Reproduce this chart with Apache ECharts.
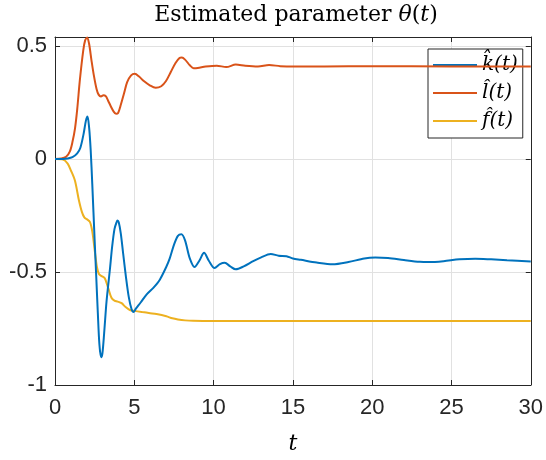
<!DOCTYPE html>
<html>
<head>
<meta charset="utf-8">
<script src="https://cdn.jsdelivr.net/npm/echarts@6/dist/echarts.min.js"></script>
<style>html,body{margin:0;padding:0;background:#fff}#c{width:546px;height:460px}</style>
</head>
<body>
<div id="c"></div>
<script>
// ---- data ----
const seriesNames = ['k\u0302(t)', 'l\u0302(t)', 'f\u0302(t)'];
const xTicks = [0, 5, 10, 15, 20, 25, 30];
const yTicks = [-1, -0.5, 0, 0.5];

const tK = [0, 0.5, 0.8, 1.1, 1.4, 1.6, 1.8, 1.95, 2.05, 2.15, 2.25, 2.35, 2.5, 2.6, 2.7, 2.8, 2.91, 2.99, 3.1, 3.25, 3.46, 3.6, 3.75, 3.88, 3.94, 4.02, 4.15, 4.3, 4.47, 4.65, 4.83, 4.95, 5.1, 5.4, 5.77, 6.2, 6.6, 7.0, 7.23, 7.5, 7.75, 7.97, 8.2, 8.5, 8.8, 9.1, 9.4, 9.7, 10.06, 10.4, 10.7, 11.05, 11.4, 11.9, 12.5, 13.0, 13.6, 14.1, 14.6, 15.0, 15.5, 16.5, 17.5, 18.5, 19.5, 20.2, 21, 22, 23, 23.6, 24.5, 25.5, 26.5, 27.5, 28.5, 30];
const kVals = [0, 0, 0.002, 0.008, 0.025, 0.05, 0.11, 0.17, 0.188, 0.14, 0.04, -0.11, -0.36, -0.52, -0.68, -0.82, -0.877, -0.86, -0.77, -0.63, -0.49, -0.39, -0.31, -0.28, -0.272, -0.28, -0.33, -0.42, -0.52, -0.61, -0.665, -0.677, -0.662, -0.635, -0.60, -0.57, -0.535, -0.48, -0.441, -0.38, -0.34, -0.333, -0.36, -0.44, -0.478, -0.45, -0.415, -0.45, -0.482, -0.465, -0.459, -0.475, -0.488, -0.475, -0.452, -0.435, -0.42, -0.428, -0.43, -0.44, -0.446, -0.458, -0.466, -0.456, -0.44, -0.436, -0.438, -0.447, -0.455, -0.456, -0.452, -0.444, -0.441, -0.444, -0.448, -0.453];

const tL = [0, 0.4, 0.7, 0.94, 1.1, 1.26, 1.4, 1.57, 1.78, 1.9, 2.03, 2.15, 2.3, 2.45, 2.62, 2.75, 2.9, 3.05, 3.2, 3.35, 3.5, 3.7, 3.85, 3.98, 4.15, 4.35, 4.55, 4.8, 5.03, 5.3, 5.6, 6.0, 6.35, 6.7, 7.0, 7.3, 7.6, 7.85, 8.0, 8.2, 8.5, 8.74, 9.0, 9.5, 10.2, 10.8, 11.4, 12, 12.8, 13.5, 14.2, 15, 17, 20, 25, 30];
const lVals = [0, 0.002, 0.01, 0.034, 0.075, 0.135, 0.22, 0.351, 0.48, 0.525, 0.538, 0.51, 0.437, 0.37, 0.31, 0.285, 0.277, 0.282, 0.278, 0.258, 0.236, 0.21, 0.2, 0.204, 0.24, 0.29, 0.34, 0.37, 0.377, 0.365, 0.345, 0.325, 0.315, 0.322, 0.345, 0.385, 0.425, 0.447, 0.449, 0.44, 0.415, 0.402, 0.403, 0.409, 0.413, 0.407, 0.418, 0.413, 0.41, 0.416, 0.411, 0.409, 0.41, 0.411, 0.41, 0.41];

const tF = [0, 0.5, 0.8, 1.0, 1.26, 1.5, 1.7, 1.85, 2.0, 2.2, 2.35, 2.52, 2.65, 2.78, 2.94, 3.14, 3.35, 3.56, 3.75, 3.95, 4.2, 4.45, 4.72, 5.03, 5.5, 6.0, 6.4, 7.02, 7.4, 7.75, 8.2, 8.7, 10, 15, 30];
const fVals = [0, -0.002, -0.02, -0.05, -0.096, -0.18, -0.235, -0.258, -0.266, -0.278, -0.32, -0.413, -0.48, -0.51, -0.518, -0.528, -0.57, -0.614, -0.627, -0.631, -0.638, -0.655, -0.668, -0.672, -0.677, -0.682, -0.686, -0.696, -0.705, -0.71, -0.714, -0.716, -0.717, -0.717, -0.717];

const colors = ['#0072BD', '#D95319', '#EDB120'];
const zip = (xs, ys) => xs.map((x, i) => [x, ys[i]]);
const dataSets = [zip(tK, kVals), zip(tL, lVals), zip(tF, fVals)];

const sans = '"Liberation Sans", Arial, Helvetica, sans-serif';
const serif = '"DejaVu Serif", serif';
const axisColor = '#262626';

const chart = echarts.init(document.getElementById('c'), null, {renderer: 'canvas'});

const baseX = {
  type: 'value', min: 0, max: 30, interval: 5,
  axisLine: {show: true, onZero: false, lineStyle: {color: axisColor, width: 1}},
  axisTick: {show: true, inside: true, length: 5, lineStyle: {color: axisColor}},
};
const baseY = {
  type: 'value', min: -1, max: 0.54, interval: 0.5,
  axisLine: {show: true, onZero: false, lineStyle: {color: axisColor, width: 1}},
  axisTick: {show: true, inside: true, length: 5, lineStyle: {color: axisColor}},
};
const yFmt = v => (yTicks.some(t => Math.abs(t - v) < 1e-9) ? String(v) : '');

chart.setOption({
  animation: false,
  backgroundColor: '#fff',
  grid: {left: 55, right: 13, top: 37, bottom: 68, containLabel: false},
  graphic: [{
    type: 'text', x: 296, y: 15,
    style: {
      text: '{n|Estimated parameter }{i|\u03b8}{n|(}{i|t}{n|)}',
      align: 'center', verticalAlign: 'middle',
      rich: {
        n: {fontFamily: serif, fontSize: 22, fill: '#000'},
        i: {fontFamily: serif, fontSize: 22, fontStyle: 'italic', fill: '#000'}
      }
    }
  }],
  xAxis: [
    Object.assign({}, baseX, {
      position: 'bottom',
      name: 't', nameLocation: 'middle', nameGap: 48,
      nameTextStyle: {fontFamily: serif, fontStyle: 'italic', fontSize: 22, color: '#000'},
      axisLabel: {show: true, margin: 12, fontFamily: sans, fontSize: 22, color: axisColor,
        formatter: v => (xTicks.includes(v) ? String(v) : '')},
      splitLine: {show: true, lineStyle: {color: '#e1e1e1', width: 1}}
    }),
    Object.assign({}, baseX, {
      position: 'top', axisLabel: {show: false}, splitLine: {show: false}
    })
  ],
  yAxis: [
    Object.assign({}, baseY, {
      position: 'left',
      axisLabel: {show: true, margin: 8, fontFamily: sans, fontSize: 22, color: axisColor, formatter: yFmt},
      splitLine: {show: true, lineStyle: {color: '#e1e1e1', width: 1}}
    }),
    Object.assign({}, baseY, {
      position: 'right', axisLabel: {show: false}, splitLine: {show: false}
    })
  ],
  legend: {
    orient: 'vertical', left: 428, top: 49,
    data: seriesNames,
    icon: 'rect', itemWidth: 44, itemHeight: 2,
    itemGap: 0,
    padding: [2, 5, 3, 5],
    backgroundColor: '#fff',
    borderColor: axisColor, borderWidth: 1, borderRadius: 0,
    textStyle: {fontFamily: serif, fontStyle: 'italic', fontSize: 20, color: '#000', lineHeight: 28}
  },
  series: seriesNames.map((name, i) => ({
    name, type: 'line', data: dataSets[i],
    xAxisIndex: 0, yAxisIndex: 0,
    showSymbol: false, symbol: 'none',
    smooth: 0.3,
    lineStyle: {color: colors[i], width: 2},
    itemStyle: {color: colors[i]},
    z: 3 - i + 2
  }))
});
</script>
</body>
</html>
